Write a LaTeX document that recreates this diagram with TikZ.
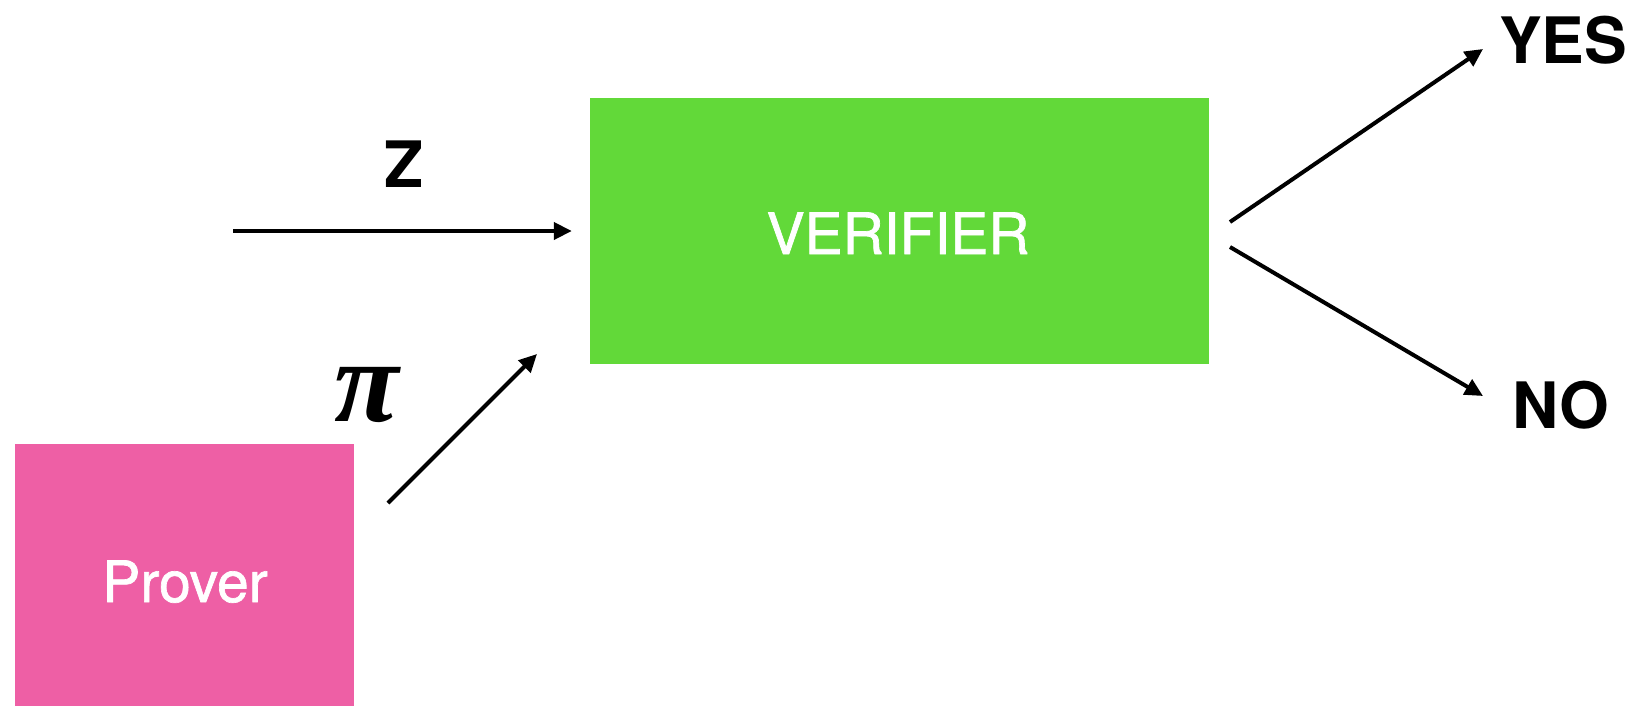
\documentclass[tikz,border=0pt]{standalone}
\usepackage{fontspec}
\setmainfont{TeX Gyre Heros}
\newfontfamily\heavysans[FakeBold=1.2]{TeX Gyre Heros}
\newfontfamily\greekserif{Liberation Serif}
\usetikzlibrary{arrows.meta}
\definecolor{verigreen}{HTML}{62D939}
\definecolor{provpink}{HTML}{EE5FA5}
\tikzset{
  block/.style={draw=none, inner sep=0pt},
  blocktext/.style={inner sep=0pt, text=white,
    font=\heavysans\fontsize{57}{60}\selectfont},
  tag/.style={inner sep=0pt, font=\fontsize{64}{70}\selectfont\bfseries},
  flow/.style={line width=4pt, -{Triangle[length=18pt,width=17pt]}},
}
\begin{document}
\begin{tikzpicture}[x=1pt, y=-1pt]
  \useasboundingbox (0,0) rectangle (1627,705);
  \clip (0,0) rectangle (1627,705);

  % the two parties
  \node[block, fill=verigreen, minimum width=619pt, minimum height=266pt]
    (ver) at (899.5,231) {};
  \node[blocktext, anchor=base] (vertext) at (898,254) {VERIFIER};
  \node[block, fill=provpink, minimum width=339pt, minimum height=272pt]
    (prov) at (184.5,580) {};
  \node[blocktext, anchor=base] (provtext) at (185,602) {Prover};

  % statement input
  \coordinate (zin) at (233,231);
  \node[tag, anchor=base] (z) at (404,187) {Z};
  \draw[flow, shorten >=18pt] (zin) -- (ver.west);

  % proof sent by the prover
  \node[inner sep=0pt, font=\greekserif\bfseries\itshape\fontsize{118}{118}\selectfont,
    anchor=base] (pi) at (367,421) {π};
  \coordinate (pstart) at (388,503);
  \coordinate (pend) at (537,354);
  \draw[flow] (pstart) -- (pend);

  % decision
  \node[tag, anchor=base west] (yes) at (1499,63) {YES};
  \node[tag, anchor=base west] (no) at (1512,428) {NO};
  \coordinate (yesfrom) at (1230,222);
  \coordinate (yesto) at (1483,49);
  \coordinate (nofrom) at (1230,247);
  \coordinate (noto) at (1483,396);
  \draw[flow] (yesfrom) -- (yesto);
  \draw[flow] (nofrom) -- (noto);
\end{tikzpicture}
\end{document}
